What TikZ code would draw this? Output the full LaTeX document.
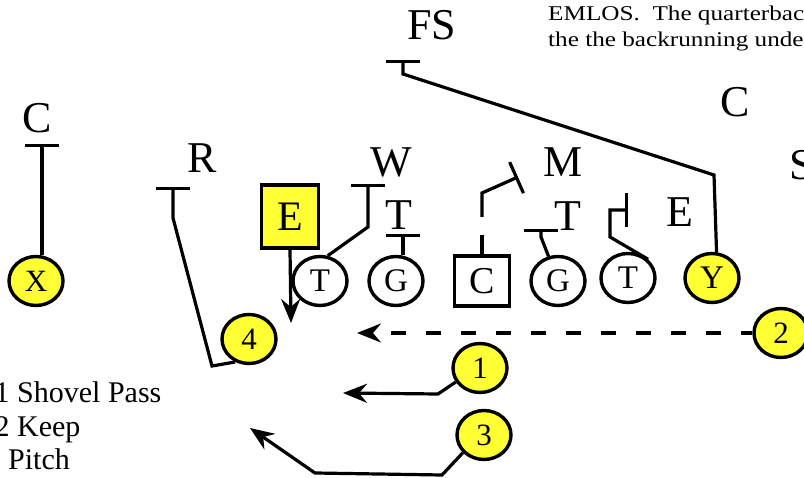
\documentclass[tikz,border=0pt]{standalone}
\usepackage{fontspec}
\setmainfont{Liberation Serif}
\newfontfamily\notefont[FakeStretch=1.2]{Liberation Serif}
\usetikzlibrary{shapes.geometric,arrows.meta}
\definecolor{plyellow}{HTML}{FFFF33}
\tikzset{
  player/.style={draw, line width=3.4pt, ellipse, minimum width=54pt, minimum height=49pt, inner sep=0pt, fill=white, font=\fontsize{33}{36}\selectfont},
  back/.style={player, fill=plyellow, font=\fontsize{31}{36}\selectfont},
  defender/.style={anchor=base, inner sep=0pt, font=\fontsize{44}{50}\selectfont},
  block/.style={line width=3.2pt, -{Bar[width=34pt]}},
  route/.style={line width=3.2pt, -{Stealth[length=24pt,width=19pt,inset=8pt]}},
  legend/.style={anchor=base west, inner sep=0pt, font=\fontsize{30}{34}\selectfont},
}
\begin{document}
\begin{tikzpicture}[x=1pt,y=-1pt]
\useasboundingbox (0,0) rectangle (804,478);
\clip (0,0) rectangle (804,478);

\node[back] (X) at (36,281) {X};
\node[player] (LT) at (320,281) {T};
\node[player] (LG) at (396,281) {G};
\node[draw, line width=3.4pt, minimum width=55pt, minimum height=50pt, inner sep=0pt, font=\fontsize{38}{40}\selectfont] (Cn) at (482,281) {C};
\node[player] (RG) at (558,281) {G};
\node[player] (RT) at (628,278) {T};
\node[back, font=\fontsize{33}{36}\selectfont] (Y) at (712,278) {Y};
\node[draw, line width=3.4pt, fill=plyellow, minimum width=57pt, minimum height=63pt, inner sep=0pt, font=\fontsize{42}{46}\selectfont] (TE) at (290,216.5) {E};
\node[back] (b4) at (249,339) {4};
\node[back] (b2) at (781,333) {2};
\node[back] (b1) at (480,368) {1};
\node[back] (b3) at (484,435) {3};

\node[defender] (lblC) at (37,133) {C};
\node[defender] (lblR) at (202,173) {R};
\node[defender] (lblW) at (391,177) {W};
\node[defender] (lblTa) at (399,230) {T};
\node[defender] (lblM) at (563,177) {M};
\node[defender] (lblTb) at (568,231) {T};
\node[defender] (lblE) at (680,227) {E};
\node[defender] (lblFS) at (432,40) {FS};
\node[defender] (lblCb) at (735,117) {C};
\node[defender, anchor=base west] (lblS) at (789,180) {S};

\coordinate (xbar) at (42,144);
\draw[block] (xbar |- X.north) -- (xbar);

\coordinate (rfoot) at (212,366);
\coordinate (rknee) at (173,218);
\coordinate (rbar) at (173,187);
\draw[block] (b4.239) -- (rfoot) -- (rknee) -- (rbar);

\coordinate (wknee) at (368,227);
\coordinate (wbar) at (368,184);
\draw[block] (LT.73) -- (wknee) -- (wbar);

\coordinate (tabar) at (403,234);
\draw[block] (tabar |- LG.north) -- (tabar);

\coordinate (cgapa) at (482,235);
\coordinate (cgapb) at (482,217);
\coordinate (cknee) at (482,193);
\coordinate (mbar) at (518,177);
\draw[line width=3.2pt] (Cn.north) -- (cgapa);
\draw[block] (cgapb) -- (cknee) -- (mbar);

\coordinate (gknee) at (541,237);
\coordinate (tbbar) at (541,229);
\draw[block] (RG.111) -- (gknee) -- (tbbar);

\coordinate (tknee) at (610,237);
\coordinate (tturn) at (610,210);
\coordinate (ebar) at (628,210);
\draw[block] (RT.43) -- (tknee) -- (tturn) -- (ebar);

\coordinate (fsknee) at (714,175);
\coordinate (fsstem) at (403,74);
\coordinate (fsbar) at (403,60);
\draw[block] (Y.80) -- (fsknee) -- (fsstem) -- (fsbar);

\coordinate (etip) at (291,323);
\draw[route] (TE.south) -- (etip);

\coordinate (dtip) at (357,333);
\draw[route, dash pattern=on 15pt off 20pt, dash phase=4pt] (b2.west) -- (dtip);

\coordinate (onebend) at (438,394);
\coordinate (onetip) at (343,393);
\draw[route] (b1.210) -- (onebend) -- (onetip);

\coordinate (threebend) at (442,475);
\coordinate (threecorner) at (315,473);
\coordinate (threetip) at (250,428);
\draw[route] (b3.220) -- (threebend) -- (threecorner) -- (threetip);

\node[anchor=base west, inner sep=0pt, font=\notefont\fontsize{21}{25}\selectfont] (noteA) at (548,21) {EMLOS.~~The quarterback};
\node[anchor=base west, inner sep=0pt, font=\notefont\fontsize{21}{25}\selectfont] (noteB) at (548,47) {the the backrunning under};

\node[legend] (legA) at (-5.5,403) {1 Shovel Pass};
\node[legend] (legB) at (-5.5,437) {2 Keep};
\node[legend] (legC) at (8,470) {Pitch};
\end{tikzpicture}
\end{document}
